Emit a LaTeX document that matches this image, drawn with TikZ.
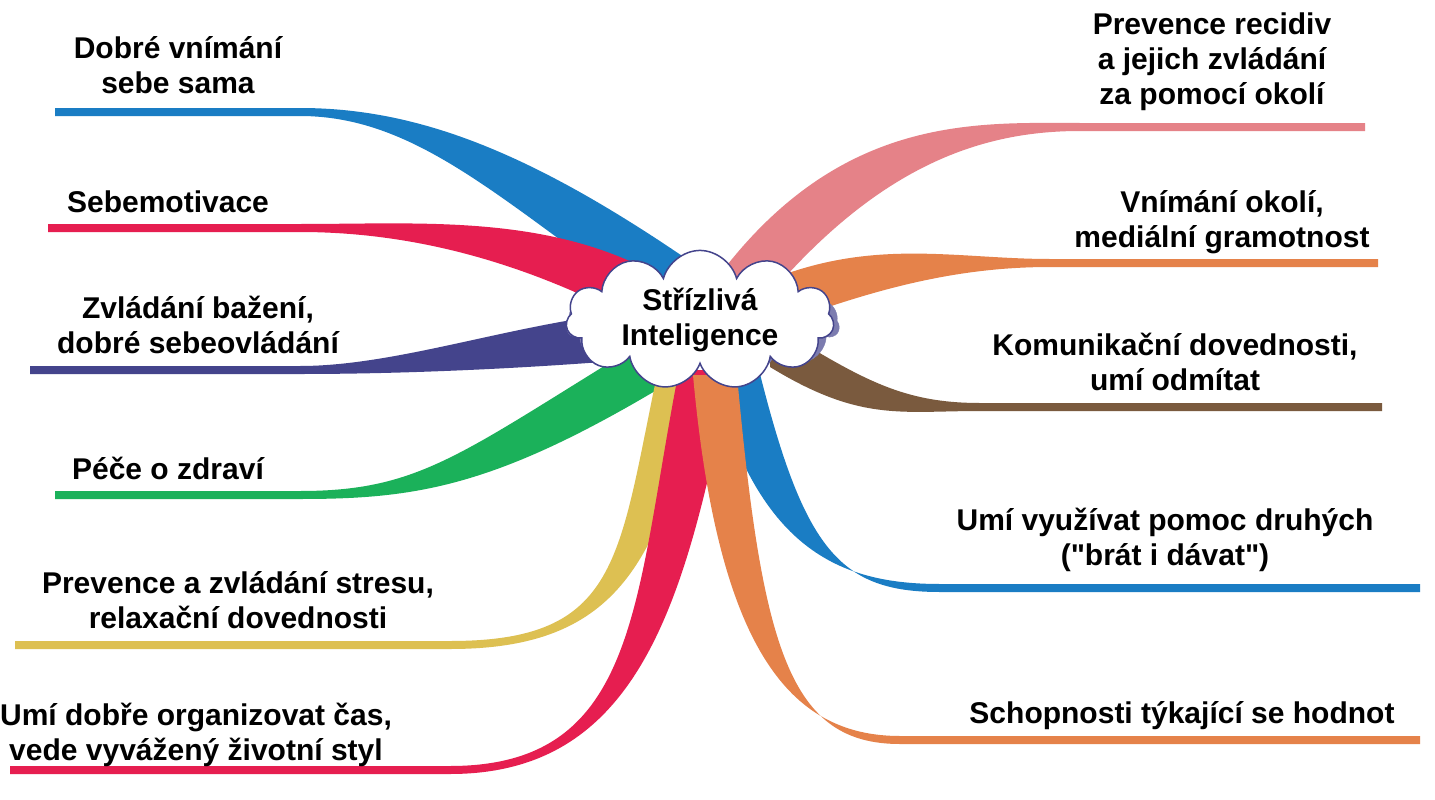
\documentclass[tikz,border=0pt]{standalone}
\usepackage{fontspec}
\setmainfont{Liberation Sans}[Ligatures=TeXOff]
\usetikzlibrary{calc,shapes.symbols}
\definecolor{cblue}{HTML}{1A7DC4}
\definecolor{cred}{HTML}{E61E50}
\definecolor{cnavy}{HTML}{44448C}
\definecolor{cgreen}{HTML}{1BB15A}
\definecolor{cyellow}{HTML}{DDC052}
\definecolor{cpink}{HTML}{E58288}
\definecolor{corange}{HTML}{E5824A}
\definecolor{cbrown}{HTML}{7A5A3E}
\newcommand{\branch}[7]{%
 \fill[#1] ($(#2)+(#3)$) .. controls ($(#4)+(#3)$) and ($(#5)+(0,-4)$) .. ($(#6)+(0,-4)$) -- ($(#6)+(#7,-4)$)
 -- ($(#6)+(#7,4)$) -- ($(#6)+(0,4)$) .. controls ($(#5)+(0,4)$) and ($(#4)-(#3)$) .. ($(#2)-(#3)$) -- cycle;}
\tikzset{lbl/.style={font=\bfseries\fontsize{30}{35}\selectfont,align=center,text=black}}
\begin{document}
\begin{tikzpicture}[x=1pt,y=-1pt]
\useasboundingbox (0,0) rectangle (1435,800);
\fill[white] (0,0) rectangle (1435,800);
% left
\branch{cblue}{680,290}{14,-26}{520,180}{420,112}{300,112}{-245}
\branch{cred}{650,300}{6,-26}{540,240}{420,228}{300,228}{-252}
\branch{cnavy}{640,335}{0,-24}{520,345}{400,370}{300,370}{-270}
\branch{cgreen}{660,360}{-20,-16}{480,470}{420,495}{300,495}{-245}
\branch{cyellow}{680,370}{-22,0}{640,560}{620,645}{450,645}{-435}
\branch{cred}{705,370}{-26,0}{660,600}{640,770}{450,770}{-440}
% right
\branch{cpink}{740,290}{-12,-26}{860,140}{980,127}{1080,127}{285}
\branch{corange}{780,300}{0,-24}{880,263}{960,263}{1050,263}{328}
\branch{cbrown}{770,345}{0,-22}{860,400}{900,407}{980,407}{402}
\branch{cblue}{735,370}{-24,0}{780,550}{840,588}{940,588}{480}
\branch{corange}{715,375}{-22,0}{740,650}{790,740}{900,740}{520}
% cloud
\node[cloud,cloud puffs=11,aspect=2.7,minimum width=272,minimum height=112,inner sep=0pt,fill=cnavy!70,draw=cnavy!70] at (703,325) {};
\node (c) [cloud,cloud puffs=11,aspect=2.7,minimum width=268,minimum height=108,fill=white,draw=cnavy,line width=1.5pt,lbl,inner sep=0pt] at (700,320) {Střízlivá\\Inteligence};
% labels
\node (l1) [lbl] at (178,65) {Dobré vnímání\\sebe sama};
\node (l2) [lbl] at (168,202) {Sebemotivace};
\node (l3) [lbl] at (198,325) {Zvládání bažení,\\dobré sebeovládání};
\node (l4) [lbl] at (168,468) {Péče o zdraví};
\node (l5) [lbl] at (238,600) {Prevence a zvládání stresu,\\relaxační dovednosti};
\node (l6) [lbl] at (196,735) {Umí dobře organizovat čas,\\vede vyvážený životní styl};
\node (r1) [lbl] at (1212,62) {Prevence recidiv\\a jejich zvládání\\za pomocí okolí};
\node (r2) [lbl] at (1222,222) {Vnímání okolí,\\mediální gramotnost};
\node (r3) [lbl] at (1175,362) {Komunikační dovednosti,\\umí odmítat};
\node (r4) [lbl] at (1165,540) {Umí využívat pomoc druhých\\("brát i dávat")};
\node (r5) [lbl] at (1182,716) {Schopnosti týkající se hodnot};
\end{tikzpicture}
\end{document}
